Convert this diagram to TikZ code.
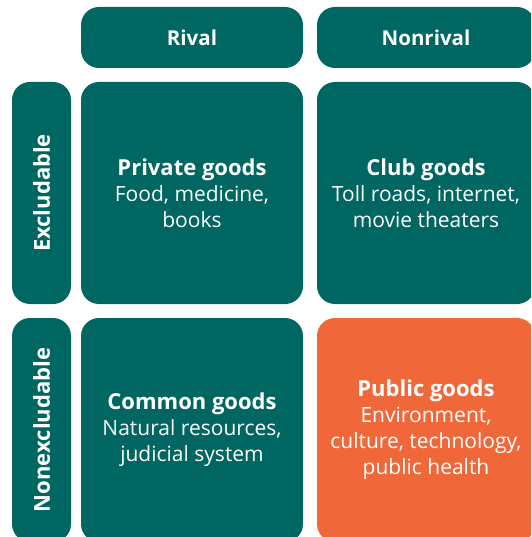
\documentclass[tikz,border=0pt]{standalone}
\usepackage{fontspec}
\setmainfont{Open Sans}
\usepackage{tikz}
\usetikzlibrary{positioning}
\definecolor{goodsteal}{RGB}{0,102,97}
\definecolor{goodsorange}{RGB}{240,104,58}
\newcommand{\goodtitle}[1]{{\fontsize{22}{26}\selectfont\bfseries #1}}

\begin{document}
\begin{tikzpicture}[x=1pt, y=-1pt,
    cell/.style={rectangle, fill=goodsteal, rounded corners=18pt, inner sep=0pt,
                 text=white, align=center, font=\fontsize{21}{26}\selectfont},
    header/.style={cell, minimum height=61pt, font=\fontsize{20.5}{26}\selectfont\bfseries},
    side/.style={cell, minimum width=59pt, font=\fontsize{22}{26}\selectfont\bfseries}
]
    \clip (0,0) rectangle (531,537);
    \node[header, minimum width=222pt] (rival) at (192,37.5) {Rival};
    \node[header, minimum width=218pt] (nonrival) at (426,37.5) {Nonrival};

    \node[side, minimum height=222pt] (excl) at (41.5,193) {\rotatebox{90}{Excludable}};
    \node[side, minimum height=224pt] (nonexcl) at (41.5,430) {\rotatebox{90}{Nonexcludable}};

    \node[cell, minimum width=222pt, minimum height=222pt] (private) at (192,193)
        {\goodtitle{Private goods}\\Food, medicine,\\books};
    \node[cell, minimum width=218pt, minimum height=222pt] (club) at (426,193)
        {\goodtitle{Club goods}\\Toll roads, internet,\\movie theaters};
    \node[cell, minimum width=222pt, minimum height=224pt] (common) at (192,430)
        {\goodtitle{Common goods}\\Natural resources,\\judicial system};
    \node[cell, fill=goodsorange, minimum width=218pt, minimum height=224pt] (public) at (426,430)
        {\goodtitle{Public goods}\\Environment,\\culture, technology,\\public health};
\end{tikzpicture}
\end{document}
